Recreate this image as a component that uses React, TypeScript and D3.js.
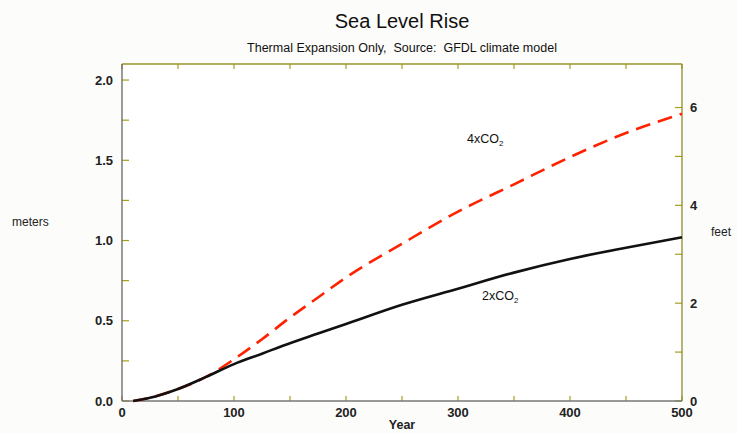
import React from "react";
import * as d3 from "d3";

const years = [10, 25, 50, 75, 100, 125, 150, 175, 200, 250, 300, 350, 400, 450, 500];
const rise2x = [0, 0.02, 0.075, 0.15, 0.23, 0.295, 0.36, 0.42, 0.48, 0.6, 0.7, 0.8, 0.885, 0.955, 1.02];
const rise4x = [0, 0.02, 0.075, 0.15, 0.26, 0.385, 0.52, 0.645, 0.77, 0.98, 1.18, 1.35, 1.52, 1.67, 1.79];

const xTicks = [0, 100, 200, 300, 400, 500];
const xMinor = [50, 150, 250, 350, 450];
const meterTicks = [0, 0.5, 1.0, 1.5, 2.0];
const meterMinor = [0.25, 0.75, 1.25, 1.75];
const feetTicks = [0, 2, 4, 6];
const feetMinor = [1, 3, 5];

const W = 737;
const H = 433;
const FONT = "'Liberation Sans', Arial, sans-serif";

export default function App() {
  const left = 122;
  const right = 682;
  const bottom = 401;
  const top = 64;

  const x = d3.scaleLinear().domain([0, 500]).range([left, right]);
  const y = d3.scaleLinear().domain([0, 2.1]).range([bottom, top]);
  const yFeet = d3.scaleLinear().domain([0, 2.1 / 0.3048]).range([bottom, top]);

  const line = d3
    .line<number>()
    .x((_, i) => x(years[i]))
    .y((d) => y(d))
    .curve(d3.curveMonotoneX);

  const tickCol = "#a3a01a";
  const tickLen = 7;

  return (
    <div style={{ position: "absolute", left: 0, top: 0 }}>
      <svg width={W} height={H} style={{ display: "block", background: "#fcfcfa" }} fontFamily={FONT}>
        {/* titles */}
        <text x={402} y={28} textAnchor="middle" fontSize={20} fill="#111">
          Sea Level Rise
        </text>
        <text x={402} y={52} textAnchor="middle" fontSize={12.5} fill="#111" style={{ whiteSpace: "pre" }}>
          {"Thermal Expansion Only,  Source:  GFDL climate model"}
        </text>

        {/* plot area */}
        <rect x={left} y={top} width={right - left} height={bottom - top} fill="#ffffff" />

        {/* ticks, pointing inward */}
        {[...xTicks, ...xMinor].map((t) => (
          <g key={"x" + t}>
            <line x1={x(t)} x2={x(t)} y1={bottom} y2={bottom - 5} stroke={tickCol} strokeWidth={1.2} />
            <line x1={x(t)} x2={x(t)} y1={top} y2={top + 5} stroke={tickCol} strokeWidth={1.2} />
          </g>
        ))}
        {[...meterTicks, ...meterMinor].map((t) => (
          <line key={"m" + t} x1={left} x2={left + tickLen} y1={y(t)} y2={y(t)} stroke={tickCol} strokeWidth={1.2} />
        ))}
        {[...feetTicks, ...feetMinor].map((t) => (
          <line key={"f" + t} x1={right} x2={right - tickLen} y1={yFeet(t)} y2={yFeet(t)} stroke={tickCol} strokeWidth={1.2} />
        ))}

        {/* frame */}
        <line x1={left} x2={right} y1={top} y2={top} stroke="#9a9630" strokeWidth={1.3} />
        <line x1={right} x2={right} y1={top} y2={bottom} stroke="#8f8b2c" strokeWidth={1.3} />
        <line x1={left} x2={left} y1={top} y2={bottom} stroke="#666" strokeWidth={1.3} />
        <line x1={left} x2={right} y1={bottom} y2={bottom} stroke="#777" strokeWidth={1.3} />

        {/* series */}
        <path d={line(rise4x) || ""} fill="none" stroke="#ff2200" strokeWidth={2.6} strokeDasharray="15 8" />
        <path d={line(rise2x) || ""} fill="none" stroke="#111" strokeWidth={2.6} />

        {/* series labels */}
        <text x={467} y={143} fontSize={12.5} fill="#111">
          4xCO<tspan fontSize={8} dy={3}>2</tspan>
        </text>
        <text x={482} y={300} fontSize={12.5} fill="#111">
          2xCO<tspan fontSize={8} dy={3}>2</tspan>
        </text>

        {/* left axis labels */}
        {meterTicks.map((t) => (
          <text key={"ml" + t} x={113} y={y(t)} dy="0.35em" textAnchor="end" fontSize={13} fontWeight="bold" fill="#222">
            {t.toFixed(1)}
          </text>
        ))}
        {/* right axis labels */}
        {feetTicks.map((t) => (
          <text key={"fl" + t} x={690} y={yFeet(t)} dy="0.35em" fontSize={13} fontWeight="bold" fill="#222">
            {t}
          </text>
        ))}
        {/* bottom axis labels */}
        {xTicks.map((t) => (
          <text key={"xl" + t} x={x(t)} y={417} textAnchor="middle" fontSize={13} fontWeight="bold" fill="#222">
            {t}
          </text>
        ))}

        <text x={402} y={429} textAnchor="middle" fontSize={12.5} fontWeight="bold" fill="#222">
          Year
        </text>
        <text x={12} y={226} fontSize={12} fill="#222">
          meters
        </text>
        <text x={711} y={236} fontSize={12} fill="#222">
          feet
        </text>
      </svg>
    </div>
  );
}
